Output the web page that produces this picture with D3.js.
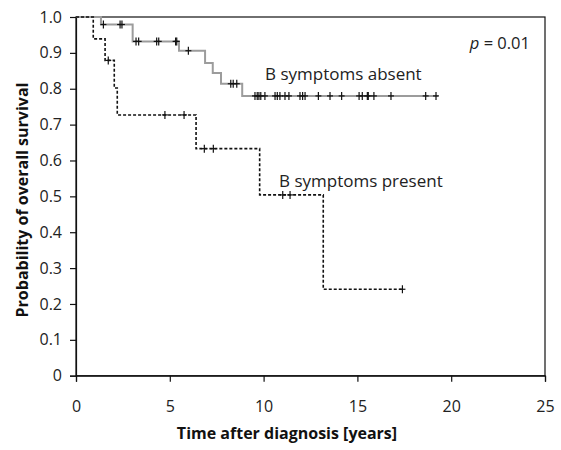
<!DOCTYPE html>
<html><head><meta charset="utf-8">
<script src="https://cdn.jsdelivr.net/npm/d3@7/dist/d3.min.js"></script>
<style>body{margin:0;background:#fff}svg{display:block;font-family:"Open Sans","Noto Sans",sans-serif}</style>
</head><body><svg id="c" width="561" height="450"></svg>
<script>
// Kaplan–Meier step points [time, survival]
const absentSteps = [[0,1.0],[1.33,0.979],[3.02,0.932],[5.49,0.906],[6.88,0.872],[7.29,0.844],[7.73,0.814],[8.86,0.780],[19.3,0.780]];
const absentCensors = [1.46,2.35,2.45,3.2,3.34,4.30,4.41,5.31,5.37,5.99,8.25,8.38,8.57,9.54,9.66,9.75,9.85,10.07,10.61,10.73,10.87,11.14,11.35,11.94,12.08,12.21,12.92,13.54,14.16,15.09,15.26,15.53,15.58,15.88,16.79,18.64,19.19];
const presentSteps = [[0,1.0],[0.92,0.939],[1.55,0.879],[2.04,0.802],[2.2,0.727],[6.40,0.633],[9.79,0.504],[13.18,0.241],[17.4,0.241]];
const presentCensors = [1.72,4.74,5.76,6.84,7.32,11.02,11.41,17.4];
const xTicks = [0,5,10,15,20,25];
const yTicks = [0,0.1,0.2,0.3,0.4,0.5,0.6,0.7,0.8,0.9,1.0];

const svg = d3.select("#c");
const L=76,R=545,T=17,B=375.7;
const x = d3.scaleLinear().domain([0,25]).range([L,R]);
const y = d3.scaleLinear().domain([0,1]).range([B,T]);

// frame
svg.append("rect").attr("x",L).attr("y",T).attr("width",R-L).attr("height",B-T)
  .attr("fill","none").attr("stroke","#111").attr("stroke-width",1.2);

const xAxis = svg.append("g").attr("transform",`translate(0,${B})`)
  .call(d3.axisBottom(x).tickValues(xTicks).tickSize(6).tickPadding(19).tickFormat(d3.format("d")));
const yAxis = svg.append("g").attr("transform",`translate(${L},0)`)
  .call(d3.axisLeft(y).tickValues(yTicks).tickSize(6).tickPadding(8).tickFormat(d=>d===0?"0":d3.format(".1f")(d)));
[xAxis,yAxis].forEach(a=>{
  a.select(".domain").attr("stroke","#111").attr("stroke-width",1.2);
  a.selectAll(".tick line").attr("stroke","#111").attr("stroke-width",1.2);
  a.selectAll(".tick text").attr("fill","#222").style("font-size","16px").style("font-family","'Open Sans','Noto Sans',sans-serif");
});

const line = d3.line().x(d=>x(d[0])).y(d=>y(d[1])).curve(d3.curveStepAfter);
svg.append("path").datum(absentSteps).attr("d",line).attr("fill","none")
  .attr("stroke","#9c9c9c").attr("stroke-width",2);
svg.append("path").datum(presentSteps).attr("d",line).attr("fill","none")
  .attr("stroke","#111").attr("stroke-width",1.6).attr("stroke-dasharray","3,2");

function survAt(steps,t){let v=steps[0][1];for(const s of steps){if(s[0]<=t)v=s[1];}return v;}
function censors(list,steps){
  const g=svg.append("g").attr("stroke","#111").attr("stroke-width",1.2);
  list.forEach(t=>{
    const cx=x(t),cy=y(survAt(steps,t));
    g.append("line").attr("x1",cx).attr("x2",cx).attr("y1",cy-4).attr("y2",cy+4);
    g.append("line").attr("x1",cx-3).attr("x2",cx+3).attr("y1",cy).attr("y2",cy);
  });
}
censors(absentCensors,absentSteps);
censors(presentCensors,presentSteps);

svg.append("text").attr("x",265).attr("y",80).attr("fill","#222").style("font-size","17px").text("B symptoms absent");
svg.append("text").attr("x",279).attr("y",187).attr("fill","#222").style("font-size","17px").text("B symptoms present");
const pt=svg.append("text").attr("x",530).attr("y",49).attr("text-anchor","end").attr("fill","#222").style("font-size","16.5px");
pt.append("tspan").style("font-style","italic").text("p");
pt.append("tspan").text(" = 0.01");

svg.append("text").attr("x",287).attr("y",439).attr("text-anchor","middle").attr("fill","#111")
  .style("font-size","16px").style("font-weight","bold").text("Time after diagnosis [years]");
svg.append("text").attr("transform",`translate(28,200) rotate(-90)`).attr("text-anchor","middle").attr("fill","#111")
  .style("font-size","16px").style("font-weight","bold").text("Probability of overall survival");
</script></body></html>
